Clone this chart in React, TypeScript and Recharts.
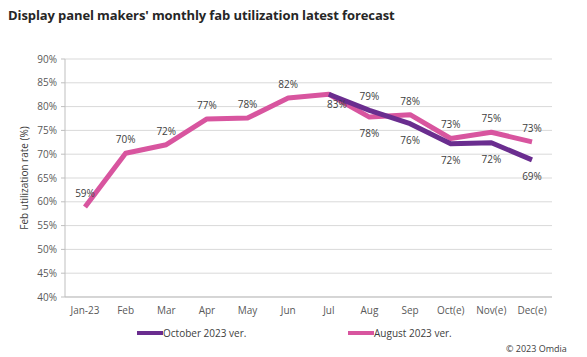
import React from "react";
import {
  LineChart,
  Line,
  XAxis,
  YAxis,
  CartesianGrid,
  LabelList,
} from "recharts";

const months = [
  "Jan-23", "Feb", "Mar", "Apr", "May", "Jun",
  "Jul", "Aug", "Sep", "Oct(e)", "Nov(e)", "Dec(e)",
];

// August 2023 version (full year)
const augustVer = [58.9, 70.2, 72.0, 77.4, 77.6, 81.8, 82.6, 77.8, 78.3, 73.3, 74.6, 72.6];
// October 2023 version (diverges from July on)
const octoberVer = [null, null, null, null, null, null, 82.6, 79.2, 76.4, 72.2, 72.4, 68.8];

const yTicks = [40, 45, 50, 55, 60, 65, 70, 75, 80, 85, 90];

const PINK = "#d8559f";
const PURPLE = "#6a2d8f";
const TEXT = "#404040";
const AXIS_TEXT = "#595959";
const FONT = "'Open Sans', sans-serif";

const data = months.map((m, i) => ({
  month: m,
  aug: augustVer[i],
  oct: octoberVer[i],
}));

// label above or below depending on which line sits higher at that month
function makeLabel(own: (number | null)[], other: (number | null)[], isPrimary: boolean) {
  return (props: any) => {
    const { x, y, index } = props;
    const v = own[index];
    if (v == null) return null;
    const o = other[index];
    let dy = -14;
    let dx = 0;
    if (o != null) {
      if (o === v) {
        if (!isPrimary) return null;
        dy = 10;
        dx = 8;
      } else if (o > v) {
        dy = 16;
      }
    }
    return (
      <text
        key={`l-${index}`}
        x={x + dx}
        y={y + dy}
        textAnchor="middle"
        dominantBaseline="central"
        fontSize={10}
        fontFamily={FONT}
        fill={TEXT}
      >
        {`${Math.round(v)}%`}
      </text>
    );
  };
}

export default function App() {
  return (
    <div
      style={{
        position: "absolute",
        left: 0,
        top: 0,
        width: 587,
        height: 357,
        background: "#fff",
        fontFamily: FONT,
        overflow: "hidden",
      }}
    >
      <div
        style={{
          position: "absolute",
          left: 8,
          top: 6,
          fontSize: 13,
          fontWeight: 700,
          color: "#262626",
          whiteSpace: "nowrap",
          letterSpacing: -0.1,
        }}
      >
        Display panel makers' monthly fab utilization latest forecast
      </div>

      <LineChart
        width={587}
        height={357}
        data={data}
        margin={{ top: 59, right: 35, left: 0, bottom: 30 }}
      >
        <CartesianGrid vertical={false} stroke="#d9d9d9" />
        <XAxis
          dataKey="month"
          stroke="#bfbfbf"
          tickLine={false}
          tickSize={6}
          tickMargin={4}
          interval={0}
          padding={{ left: 20, right: 20 }}
          tick={{ fontSize: 10, fill: AXIS_TEXT, fontFamily: FONT }}
        />
        <YAxis
          width={65}
          domain={[40, 90]}
          ticks={yTicks}
          stroke="#bfbfbf"
          tickSize={4}
          tickMargin={4}
          tickFormatter={(v) => `${v}%`}
          tick={{ fontSize: 10, fill: AXIS_TEXT, fontFamily: FONT }}
          label={{
            value: "Feb utilization rate (%)",
            angle: -90,
            position: "insideLeft",
            offset: 24,
            style: { textAnchor: "middle", fontSize: 10, fill: TEXT, fontFamily: FONT },
          }}
        />
        <Line
          dataKey="aug"
          stroke={PINK}
          strokeWidth={5}
          dot={false}
          activeDot={false}
          strokeLinejoin="round"
          isAnimationActive={false}
        >
          <LabelList dataKey="aug" content={makeLabel(augustVer, octoberVer, true)} />
        </Line>
        <Line
          dataKey="oct"
          stroke={PURPLE}
          strokeWidth={5}
          dot={false}
          activeDot={false}
          strokeLinejoin="round"
          connectNulls={false}
          isAnimationActive={false}
        >
          <LabelList dataKey="oct" content={makeLabel(octoberVer, augustVer, false)} />
        </Line>
      </LineChart>

      <div
        style={{
          position: "absolute",
          left: 137,
          top: 326,
          display: "flex",
          alignItems: "center",
          fontSize: 10,
          color: TEXT,
        }}
      >
        <span style={{ display: "inline-block", width: 26, height: 4, background: PURPLE }} />
        <span>October 2023 ver.</span>
      </div>
      <div
        style={{
          position: "absolute",
          left: 348,
          top: 326,
          display: "flex",
          alignItems: "center",
          fontSize: 10,
          color: TEXT,
        }}
      >
        <span style={{ display: "inline-block", width: 26, height: 4, background: PINK }} />
        <span>August 2023 ver.</span>
      </div>
      <div
        style={{
          position: "absolute",
          left: 506,
          top: 343,
          fontSize: 9,
          lineHeight: "12px",
          color: TEXT,
          whiteSpace: "nowrap",
        }}
      >
        © 2023 Omdia
      </div>
    </div>
  );
}
